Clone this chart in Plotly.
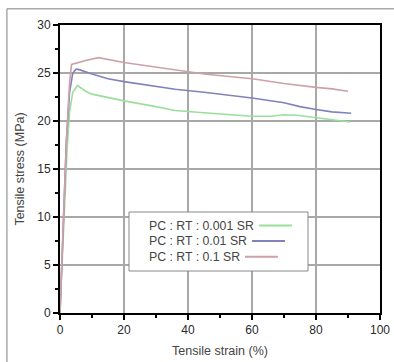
import plotly.graph_objects as go

green_x = [0, 1.2, 2.2, 3.0, 4.0, 5.5, 8, 10, 14, 20, 30, 36, 47, 55, 60, 66, 70, 74, 80, 85, 90.6]
green_y = [0, 10, 17, 21, 23, 23.7, 23.1, 22.8, 22.5, 22.1, 21.5, 21.1, 20.8, 20.6, 20.5, 20.5, 20.65, 20.6, 20.35, 20.1, 19.9]
blue_x = [0, 1.0, 2.0, 3.0, 4.0, 5.0, 6, 10, 15, 20, 30, 36, 45, 55, 60, 70, 75, 80, 85, 91]
blue_y = [0, 10, 18, 23, 25, 25.4, 25.35, 24.9, 24.4, 24.1, 23.6, 23.3, 23.0, 22.6, 22.4, 21.9, 21.5, 21.2, 20.95, 20.8]
red_x = [0, 1.0, 2.0, 3.0, 3.6, 8, 12, 20, 30, 36, 45, 60, 70, 80, 85, 90]
red_y = [0, 10, 18, 24, 25.9, 26.3, 26.6, 26.1, 25.6, 25.3, 24.9, 24.4, 23.9, 23.5, 23.35, 23.1]

names = ["PC : RT : 0.001 SR", "PC : RT : 0.01 SR", "PC : RT : 0.1 SR"]
colors = ["#9adf9a", "#8282bb", "#cfa0a8"]
xticks = [0, 20, 40, 60, 80, 100]
yticks = [0, 5, 10, 15, 20, 25, 30]

fig = go.Figure()
for xs, ys, c, n in zip([green_x, blue_x, red_x], [green_y, blue_y, red_y], colors, names):
    fig.add_trace(go.Scatter(x=xs, y=ys, mode="lines", name=n,
                             line=dict(color=c, width=1.6), showlegend=False))

font = dict(family="Liberation Sans, Arial, sans-serif", size=12, color="#2a2a2a")

fig.update_layout(
    width=394, height=362,
    margin=dict(l=60, r=14, t=25, b=49),
    plot_bgcolor="white", paper_bgcolor="white",
    font=font,
    xaxis=dict(range=[0, 100], tickvals=xticks, showgrid=True, gridcolor="#a8a8a8", gridwidth=1.8,
               showline=True, linecolor="black", linewidth=2, mirror=True,
               ticks="outside", ticklen=5, tickcolor="black", tickwidth=1.5,
               minor=dict(dtick=10, ticks="outside", ticklen=3, tickcolor="black", showgrid=False),
               zeroline=False, automargin=False,
               title=dict(text="Tensile strain (%)", font=dict(size=12.5, color="#444"), standoff=10)),
    yaxis=dict(range=[0, 30], tickvals=yticks, showgrid=True, gridcolor="#a8a8a8", gridwidth=1.8,
               showline=True, linecolor="black", linewidth=2, mirror=True,
               ticks="outside", ticklen=5, tickcolor="black", tickwidth=1.5,
               minor=dict(dtick=2.5, ticks="outside", ticklen=3, tickcolor="black", showgrid=False),
               zeroline=False, automargin=False,
               title=dict(text="Tensile stress (MPa)", font=dict(size=12.5, color="#444"), standoff=10)),
)

# outer frame (only left and top edges are inside the view)
fig.add_shape(type="line", xref="paper", yref="paper", x0=-0.166, x1=-0.166, y0=-0.3, y1=1.056,
              line=dict(color="#aaaaaa", width=1.5), layer="below")
fig.add_shape(type="line", xref="paper", yref="paper", x0=-0.166, x1=1.3, y0=1.056, y1=1.056,
              line=dict(color="#aaaaaa", width=1.5), layer="below")

# custom legend (text followed by line sample)
fig.add_shape(type="rect", xref="paper", yref="paper", x0=0.2156, y0=0.1458, x1=0.775, y1=0.3507,
              line=dict(color="#888888", width=1), fillcolor="white")
rows_y = [0.3035, 0.25, 0.1955]
line_x0 = [0.622, 0.600, 0.578]
for n, c, yy, lx in zip(names, colors, rows_y, line_x0):
    fig.add_annotation(x=0.271, y=yy, xref="paper", yref="paper", text=n, showarrow=False,
                       xanchor="left", yanchor="middle", font=dict(size=12.3, color="#444"))
    fig.add_shape(type="line", xref="paper", yref="paper", x0=lx, x1=lx + 0.103, y0=yy, y1=yy,
                  line=dict(color=c, width=2))

fig.write_html(
    "out.html",
    config={"displayModeBar": False},
    post_script="document.body.style.margin='0';document.body.style.overflow='hidden';",
)
